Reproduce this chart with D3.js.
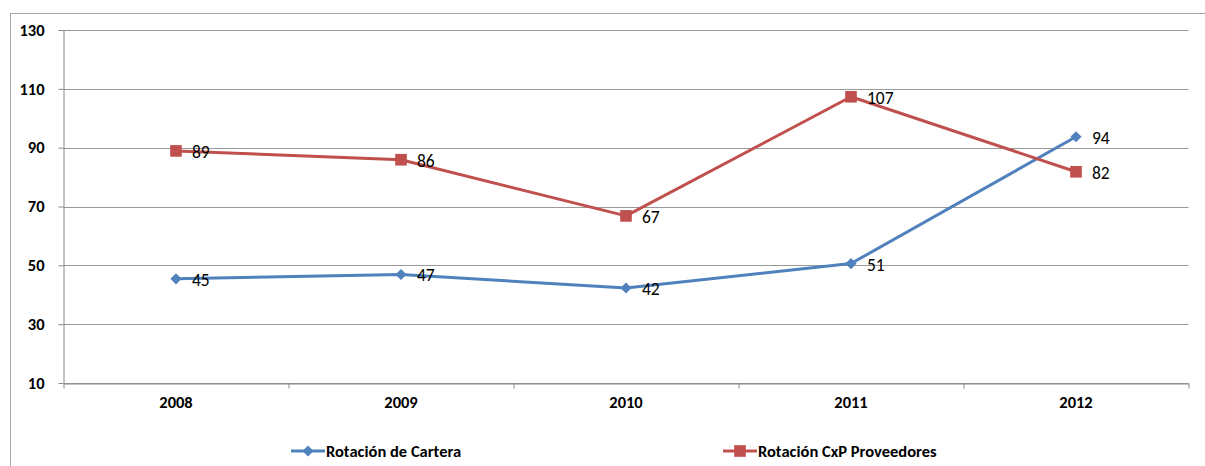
<!DOCTYPE html>
<html>
<head>
<meta charset="utf-8">
<script src="https://cdn.jsdelivr.net/npm/d3@7"></script>
<style>
  body { margin: 0; background: #fff; }
  svg { display: block; font-family: Carlito, Calibri, Lato, "Liberation Sans", sans-serif; }
</style>
</head>
<body>
<svg id="chart" width="1205" height="466"></svg>
<script>
var years = ["2008", "2009", "2010", "2011", "2012"];
var cartera = [45.4, 46.9, 42.3, 50.6, 93.7];
var proveedores = [88.9, 85.9, 66.8, 107.3, 81.8];
var yTicks = [10, 30, 50, 70, 90, 110, 130];
var seriesNames = ["Rotación de Cartera", "Rotación CxP Proveedores"];

var svg = d3.select("#chart"),
    margin = {top: 30, right: 16.5, bottom: 83, left: 63.5},
    width = +svg.attr("width") - margin.left - margin.right,
    height = +svg.attr("height") - margin.top - margin.bottom;

// marco exterior
svg.append("rect")
    .attr("x", 10.5).attr("y", 13.5)
    .attr("width", 1300).attr("height", 500)
    .attr("fill", "none").attr("stroke", "#a6a6a6");

var g = svg.append("g").attr("transform", "translate(" + margin.left + "," + margin.top + ")");

var x = d3.scaleBand().domain(years).range([0, width]);
var y = d3.scaleLinear().domain([10, 130]).range([height, 0]);

// lineas de cuadricula
g.append("g")
  .selectAll("line")
  .data(yTicks)
  .enter().append("line")
    .attr("x1", 0).attr("x2", width)
    .attr("y1", function(d) { return Math.round(y(d)) + 0.5; })
    .attr("y2", function(d) { return Math.round(y(d)) + 0.5; })
    .attr("stroke", "#999").attr("stroke-width", 1);

// eje Y
var yAxis = g.append("g")
    .call(d3.axisLeft(y).tickValues(yTicks).tickSize(5).tickPadding(14));
yAxis.select(".domain").attr("stroke", "#888").attr("d", "M0.5," + height + "V0");
yAxis.selectAll(".tick line").attr("stroke", "#888");
yAxis.selectAll("text")
    .attr("font-size", 16.5).attr("font-weight", "bold").attr("fill", "#000")
    .attr("font-family", "Carlito, Calibri, Lato, sans-serif");

// eje X
var xAxis = g.append("g")
    .attr("transform", "translate(0," + (Math.round(height) + 0.5) + ")")
    .call(d3.axisBottom(x).tickSize(0).tickPadding(13));
xAxis.select(".domain").attr("stroke", "#888");
xAxis.selectAll("text")
    .attr("font-size", 16.5).attr("font-weight", "bold").attr("fill", "#000")
    .attr("font-family", "Carlito, Calibri, Lato, sans-serif");
xAxis.selectAll(".sep")
    .data(d3.range(years.length + 1))
    .enter().append("line")
    .attr("class", "sep")
    .attr("x1", function(i) { return i * x.step() + 0.5; })
    .attr("x2", function(i) { return i * x.step() + 0.5; })
    .attr("y1", 0).attr("y2", 5)
    .attr("stroke", "#888");

var series = [
  {name: seriesNames[0], values: cartera, color: "#4F81BD", marker: d3.symbolSquare, size: 62, rot: 45},
  {name: seriesNames[1], values: proveedores, color: "#C0504D", marker: d3.symbolSquare, size: 135, rot: 0}
];

var line = d3.line()
    .x(function(d, i) { return x(years[i]) + x.bandwidth() / 2; })
    .y(function(d) { return y(d); });

series.forEach(function(s) {
  g.append("path")
      .datum(s.values)
      .attr("fill", "none")
      .attr("stroke", s.color)
      .attr("stroke-width", 3)
      .attr("stroke-linejoin", "round")
      .attr("d", line);

  g.selectAll(null)
      .data(s.values)
      .enter().append("path")
      .attr("d", d3.symbol().type(s.marker).size(s.size))
      .attr("transform", function(d, i) { return "translate(" + (x(years[i]) + x.bandwidth() / 2) + "," + y(d) + ") rotate(" + s.rot + ")"; })
      .attr("fill", s.color);

  g.selectAll(null)
      .data(s.values)
      .enter().append("text")
      .attr("x", function(d, i) { return x(years[i]) + x.bandwidth() / 2 + 16; })
      .attr("y", function(d) { return y(d); })
      .attr("dy", "0.4em")
      .attr("font-size", 17.5)
      .attr("fill", "#000")
      .text(function(d) { return Math.round(d); });
});

// leyenda
var legendX = [291, 723];
var legend = svg.append("g")
  .selectAll("g")
  .data(series)
  .enter().append("g")
    .attr("transform", function(d, i) { return "translate(" + legendX[i] + ",451)"; });

legend.append("line")
    .attr("x1", 0).attr("x2", 34)
    .attr("stroke", function(d) { return d.color; })
    .attr("stroke-width", 3);

legend.append("path")
    .attr("transform", function(d) { return "translate(17,0) rotate(" + d.rot + ")"; })
    .attr("d", function(d) { return d3.symbol().type(d.marker).size(d.size)(); })
    .attr("fill", function(d) { return d.color; });

legend.append("text")
    .attr("x", 35)
    .attr("dy", "0.35em")
    .attr("font-size", 16.5)
    .attr("font-weight", "bold")
    .attr("fill", "#000")
    .text(function(d) { return d.name; });
</script>
</body>
</html>
